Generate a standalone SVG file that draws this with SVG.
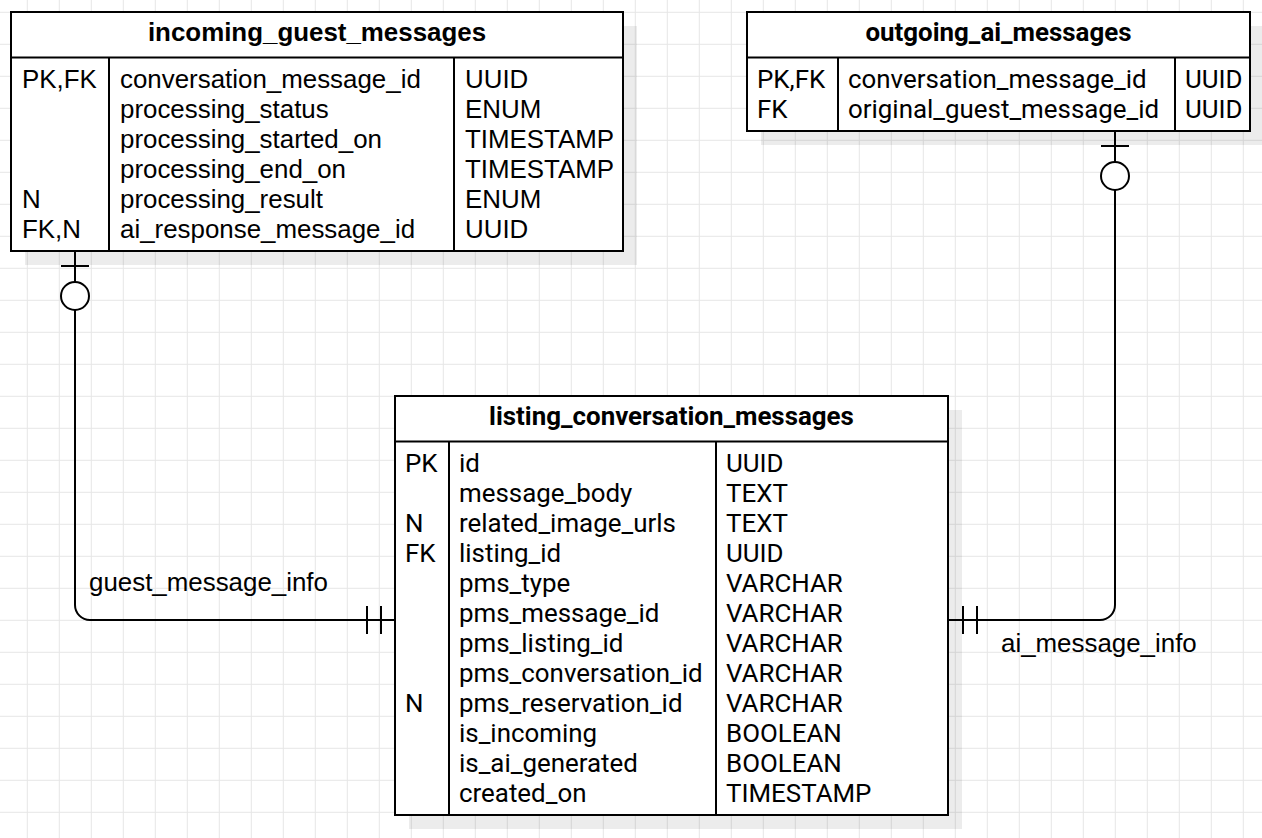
<svg xmlns="http://www.w3.org/2000/svg" width="1262" height="838" viewBox="0 0 1262 838">
<style>
.tbl{fill:#fff;stroke:#000;stroke-width:2}
.sh{fill:#000;fill-opacity:0.075}
.ln{stroke:#000;stroke-width:2;fill:none}
.a{font-family:"Liberation Sans",Arial,sans-serif;font-size:25.9px;fill:#000}
.r{font-family:Roboto,"Liberation Sans",sans-serif;font-size:25.9px;fill:#000}
.t{font-weight:bold;text-anchor:middle}
.mk{stroke:#000;stroke-width:2;fill:#fff}
</style>
<defs>
<pattern id="grid" patternUnits="userSpaceOnUse" x="26.8" y="11.8" width="32" height="32">
<path d="M0.5 0 V32 M0 0.5 H32" stroke="#e6e6e6" stroke-width="1" fill="none"/>
</pattern>
</defs>
<rect width="1262" height="838" fill="#fff"/>
<rect width="1262" height="838" fill="url(#grid)"/>

<g id="connectors">
<path class="ln" d="M75 251 V605 A15 15 0 0 0 90 620 H395"/>
<line class="ln" x1="61" y1="266" x2="89" y2="266"/>
<circle class="mk" cx="75" cy="296" r="14"/>
<line class="ln" x1="367" y1="606" x2="367" y2="634"/>
<line class="ln" x1="381" y1="606" x2="381" y2="634"/>
<text class="a" x="89" y="591">guest_message_info</text>

<path class="ln" d="M1115 131 V605 A15 15 0 0 1 1100 620 H948"/>
<line class="ln" x1="1101" y1="146" x2="1129" y2="146"/>
<circle class="mk" cx="1115" cy="176" r="14"/>
<line class="ln" x1="963" y1="606" x2="963" y2="634"/>
<line class="ln" x1="977" y1="606" x2="977" y2="634"/>
<text class="a" x="1001" y="652">ai_message_info</text>
</g>

<g id="incoming_guest_messages">
<rect class="sh" x="25" y="26" width="612" height="239"/>
<rect class="tbl" x="11" y="12" width="612" height="239"/>
<line class="ln" x1="11" y1="57.5" x2="623" y2="57.5"/>
<line class="ln" x1="109" y1="57.5" x2="109" y2="251"/>
<line class="ln" x1="454" y1="57.5" x2="454" y2="251"/>
<text class="a t" x="317" y="41">incoming_guest_messages</text>
<text class="a" x="22" y="88">PK,FK</text>
<text class="a" x="22" y="208">N</text>
<text class="a" x="22" y="238">FK,N</text>
<text class="a" x="120" y="88">conversation_message_id</text>
<text class="a" x="120" y="118">processing_status</text>
<text class="a" x="120" y="148">processing_started_on</text>
<text class="a" x="120" y="178">processing_end_on</text>
<text class="a" x="120" y="208">processing_result</text>
<text class="a" x="120" y="238">ai_response_message_id</text>
<text class="a" x="465" y="88">UUID</text>
<text class="a" x="465" y="118">ENUM</text>
<text class="a" x="465" y="148">TIMESTAMP</text>
<text class="a" x="465" y="178">TIMESTAMP</text>
<text class="a" x="465" y="208">ENUM</text>
<text class="a" x="465" y="238">UUID</text>
</g>

<g id="outgoing_ai_messages">
<rect class="sh" x="761" y="26" width="503" height="119"/>
<rect class="tbl" x="747" y="12" width="503" height="119"/>
<line class="ln" x1="747" y1="57.5" x2="1250" y2="57.5"/>
<line class="ln" x1="838" y1="57.5" x2="838" y2="131"/>
<line class="ln" x1="1175" y1="57.5" x2="1175" y2="131"/>
<text class="r t" x="998.5" y="41">outgoing_ai_messages</text>
<text class="r" x="757" y="88">PK,FK</text>
<text class="r" x="757" y="118">FK</text>
<text class="r" x="848" y="88">conversation_message_id</text>
<text class="r" x="848" y="118">original_guest_message_id</text>
<text class="r" x="1185" y="88">UUID</text>
<text class="r" x="1185" y="118">UUID</text>
</g>

<g id="listing_conversation_messages">
<rect class="sh" x="409" y="410" width="553" height="419"/>
<rect class="tbl" x="395" y="396" width="553" height="419"/>
<line class="ln" x1="395" y1="441.5" x2="948" y2="441.5"/>
<line class="ln" x1="449" y1="441.5" x2="449" y2="815"/>
<line class="ln" x1="716" y1="441.5" x2="716" y2="815"/>
<text class="r t" x="671.5" y="425">listing_conversation_messages</text>
<text class="r" x="405" y="472">PK</text>
<text class="r" x="405" y="532">N</text>
<text class="r" x="405" y="562">FK</text>
<text class="r" x="405" y="712">N</text>
<text class="r" x="459" y="472">id</text>
<text class="r" x="459" y="502">message_body</text>
<text class="r" x="459" y="532">related_image_urls</text>
<text class="r" x="459" y="562">listing_id</text>
<text class="r" x="459" y="592">pms_type</text>
<text class="r" x="459" y="622">pms_message_id</text>
<text class="r" x="459" y="652">pms_listing_id</text>
<text class="r" x="459" y="682">pms_conversation_id</text>
<text class="r" x="459" y="712">pms_reservation_id</text>
<text class="r" x="459" y="742">is_incoming</text>
<text class="r" x="459" y="772">is_ai_generated</text>
<text class="r" x="459" y="802">created_on</text>
<text class="r" x="726" y="472">UUID</text>
<text class="r" x="726" y="502">TEXT</text>
<text class="r" x="726" y="532">TEXT</text>
<text class="r" x="726" y="562">UUID</text>
<text class="r" x="726" y="592">VARCHAR</text>
<text class="r" x="726" y="622">VARCHAR</text>
<text class="r" x="726" y="652">VARCHAR</text>
<text class="r" x="726" y="682">VARCHAR</text>
<text class="r" x="726" y="712">VARCHAR</text>
<text class="r" x="726" y="742">BOOLEAN</text>
<text class="r" x="726" y="772">BOOLEAN</text>
<text class="r" x="726" y="802">TIMESTAMP</text>
</g>
</svg>
